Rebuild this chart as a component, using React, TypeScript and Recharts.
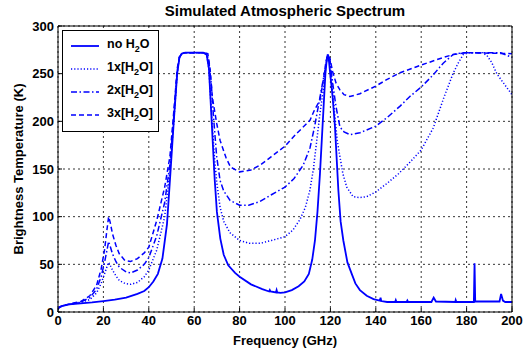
import { LineChart, Line, XAxis, YAxis, CartesianGrid } from 'recharts'

const xTicks = [0, 20, 40, 60, 80, 100, 120, 140, 160, 180, 200]
const yTicks = [0, 50, 100, 150, 200, 250, 300]

// no water vapour
const noH2oFreq = [0, 0.5, 2, 5, 10, 15, 20, 25, 30, 35, 38, 40, 42, 44, 46, 48, 49.5, 51, 52.5, 53.5, 54.5, 56, 64, 65.5, 66.5, 67.7, 69, 70, 71.5, 73, 75, 78, 80, 85, 90, 93, 93.3, 93.6, 96, 96.3, 96.6, 98, 100, 103, 106, 108.5, 110.5, 112, 113.2, 114.3, 115.4, 116.2, 117, 117.8, 118.4, 118.8, 119.3, 120, 121, 122, 123.5, 124.5, 125.7, 127.5, 129.4, 131, 133, 136, 139, 141.8, 142.1, 142.4, 145, 148.5, 148.8, 149.1, 153.6, 153.9, 154.2, 164.5, 165.5, 166.5, 175, 175.2, 175.5, 183.2, 183.5, 183.8, 194.5, 195.2, 196, 197, 200]
const noH2oTb = [3, 5, 6.5, 8, 9, 10, 11.5, 13, 15, 19, 22, 26, 32, 40, 56, 92, 145, 200, 250, 267, 271, 272, 272, 270, 255, 200, 140, 105, 77, 60, 49, 41, 37, 29, 24, 21.5, 23, 21.5, 20.5, 23, 20.5, 20, 20.5, 23, 27, 32, 40, 55, 75, 105, 145, 180, 215, 250, 265, 270, 265, 248, 225, 195, 128, 95, 75, 52, 40, 30, 23, 17, 13.5, 12, 15, 11.5, 10.5, 10.5, 12.5, 10.5, 10.5, 12, 10.5, 10.5, 15, 11, 10.5, 12.5, 10.5, 10.5, 51, 11, 11, 19, 12, 10.5, 10.5]

// 1x water vapour
const oneXFreq = [0, 0.5, 2, 5, 10, 14, 17, 19, 20.5, 21.5, 22.3, 23, 24, 25.5, 27, 29.5, 32, 35, 38, 40, 43.5, 47, 49.3, 51, 52.5, 53.5, 54.5, 56, 64, 65.5, 66.5, 67, 68, 69, 70, 71.4, 73, 75.8, 80, 84.4, 89, 94, 100, 103.5, 106.6, 109, 111, 112.5, 114, 115.5, 117, 118, 118.8, 119.5, 120.5, 122, 123, 124.2, 125.5, 127.2, 130, 133, 136, 140, 145, 150, 155, 160, 165.3, 170, 174, 176.5, 178.5, 181, 187, 189, 191, 193.3, 196, 200]
const oneXTb = [3, 5, 6.5, 8, 10, 13, 20, 30, 40, 47, 52, 49, 44, 38, 33, 30, 29, 31, 37, 44, 65, 100, 148, 200, 250, 267, 271, 272, 272, 270, 255, 232, 195, 160, 135, 110, 95, 83, 75, 72, 72, 75, 79, 86, 97, 110, 128, 150, 180, 210, 235, 258, 270, 265, 245, 205, 180, 163, 145, 131, 121, 120, 121, 126, 135, 145, 157, 170, 193, 225, 250, 262, 270, 272, 272, 269, 262, 250, 241, 228]

// 2x water vapour
const twoXFreq = [0, 0.5, 2, 5, 10, 14, 17, 19, 20.5, 21.5, 22.3, 23, 24, 25.5, 27, 30, 32, 35, 38, 40, 43.5, 47, 49.3, 51, 52.5, 53.5, 54.5, 56, 64, 65.5, 66.5, 67.5, 68.5, 69.9, 71.4, 73, 75.8, 80, 84, 89, 94, 100, 104, 108, 111, 113, 115, 116, 117.5, 118.8, 119.8, 121, 122.5, 124.2, 126, 128.6, 133, 140, 145, 150.7, 155, 160, 165, 169.7, 174, 178, 195, 200]
const twoXTb = [3, 5, 6.5, 8, 10.5, 15, 24, 37, 52, 64, 74, 69, 61, 53, 47, 42, 41, 44, 50, 57, 80, 115, 155, 205, 252, 267, 271, 272, 272, 271, 262, 240, 205, 163, 138, 127, 117, 112, 112, 116, 123, 131, 140, 154, 172, 194, 220, 233, 252, 270, 265, 240, 215, 194, 189, 186, 188, 195, 204, 216, 226, 236, 248, 261, 270, 272, 272, 267]

// 3x water vapour
const threeXFreq = [0, 0.5, 2, 5, 10, 14, 17, 19, 20.5, 21.5, 22.3, 23, 24, 25.5, 27, 29.5, 32, 35, 38, 40, 43.5, 47, 49.3, 51, 52.5, 53.5, 54.5, 56, 64, 66, 67, 68, 69.9, 71.4, 74, 76, 80, 85, 89, 94, 100, 105, 111, 113, 115.4, 117, 118, 118.8, 119.8, 121, 122.5, 124.2, 126, 128.6, 133, 140, 145, 150.7, 160, 169.7, 174, 180, 200]
const threeXTb = [3, 5, 6.5, 8.5, 11, 17, 28, 45, 65, 85, 100, 94, 82, 70, 61, 54, 53, 56, 62, 68, 96, 131, 163, 210, 255, 268, 271, 272, 272, 271, 255, 225, 198, 180, 162, 152, 147, 149, 154, 163, 174, 187, 201, 212, 222, 245, 262, 270, 266, 252, 240, 233, 228, 226, 229, 237, 244, 251, 259, 267, 270, 272, 271]

const toPoints = (freq: number[], tb: number[]) => freq.map((f, i) => ({ f, tb: tb[i] }))

const font = '"Liberation Sans", Arial, sans-serif'
const blue = '#0000ff'

const series = [
  { name: 'no', label: 'no', data: toPoints(noH2oFreq, noH2oTb), dash: undefined, width: 1.8 },
  { name: '1x', label: '1x', data: toPoints(oneXFreq, oneXTb), dash: '1.2 2', width: 1.5 },
  { name: '2x', label: '2x', data: toPoints(twoXFreq, twoXTb), dash: '6 2.5 1.5 2.5', width: 1.5 },
  { name: '3x', label: '3x', data: toPoints(threeXFreq, threeXTb), dash: '5 3', width: 1.5 },
]

function LegendBox() {
  return (
    <div style={{
      position: 'absolute', left: 62, top: 30, width: 97, height: 102,
      border: '1px solid #000', background: '#fff', boxSizing: 'border-box',
      fontFamily: font, fontWeight: 'bold', fontSize: 12.5, color: '#000', paddingTop: 3
    }}>
      {series.map(s => (
        <div key={s.name} style={{ height: 23, display: 'flex', alignItems: 'center' }}>
          <svg width={38} height={10} style={{ marginLeft: 6 }}>
            <line x1={2} y1={5} x2={30} y2={5} stroke={blue} strokeWidth={s.width} strokeDasharray={s.dash} />
          </svg>
          <span style={{ whiteSpace: 'nowrap' }}>
            {s.name === 'no' ? 'no H' : s.label + '[H'}
            <sub style={{ fontSize: 9, verticalAlign: -4 }}>2</sub>
            {s.name === 'no' ? 'O' : 'O]'}
          </span>
        </div>
      ))}
    </div>
  )
}

export default function App() {
  const tickStyle = { fill: '#000', fontSize: 13, fontWeight: 'bold', fontFamily: font }
  const labelStyle = { fill: '#000', fontSize: 13, fontWeight: 'bold', fontFamily: font }
  return (
    <div style={{ position: 'absolute', left: 0, top: 0, width: 530, height: 348, background: '#fff' }}>
      <div style={{
        position: 'absolute', left: 58, top: 2, width: 454, textAlign: 'center',
        fontFamily: font, fontWeight: 'bold', fontSize: 15, color: '#000'
      }}>
        Simulated Atmospheric Spectrum
      </div>
      <LineChart width={530} height={348} margin={{ top: 26, right: 18, left: 0, bottom: 0 }}>
        <CartesianGrid stroke="#000" strokeDasharray="2 3" strokeWidth={0.8} />
        <XAxis
          dataKey="f" type="number" domain={[0, 200]} ticks={xTicks} height={36}
          stroke="#000" tick={tickStyle} tickSize={-4} tickMargin={8} allowDataOverflow
          label={{ value: 'Frequency (GHz)', position: 'insideBottom', offset: 3, style: labelStyle }}
        />
        <XAxis
          xAxisId="top" orientation="top" type="number" domain={[0, 200]} ticks={xTicks}
          mirror tick={false} tickSize={4} stroke="#000"
        />
        <YAxis
          type="number" domain={[0, 300]} ticks={yTicks} width={58}
          stroke="#000" tick={tickStyle} tickSize={-4} tickMargin={8} allowDataOverflow
          label={{ value: 'Brightness Temperature (K)', angle: -90, position: 'insideLeft', offset: 18, style: { ...labelStyle, textAnchor: 'middle' } }}
        />
        <YAxis
          yAxisId="right" orientation="right" type="number" domain={[0, 300]} ticks={yTicks}
          mirror tick={false} tickSize={4} stroke="#000"
        />
        {series.map(s => (
          <Line
            key={s.name} data={s.data} dataKey="tb" type="linear" stroke={blue}
            strokeWidth={s.width} strokeDasharray={s.dash} dot={false} activeDot={false}
            isAnimationActive={false}
          />
        ))}
      </LineChart>
      <LegendBox />
    </div>
  )
}
